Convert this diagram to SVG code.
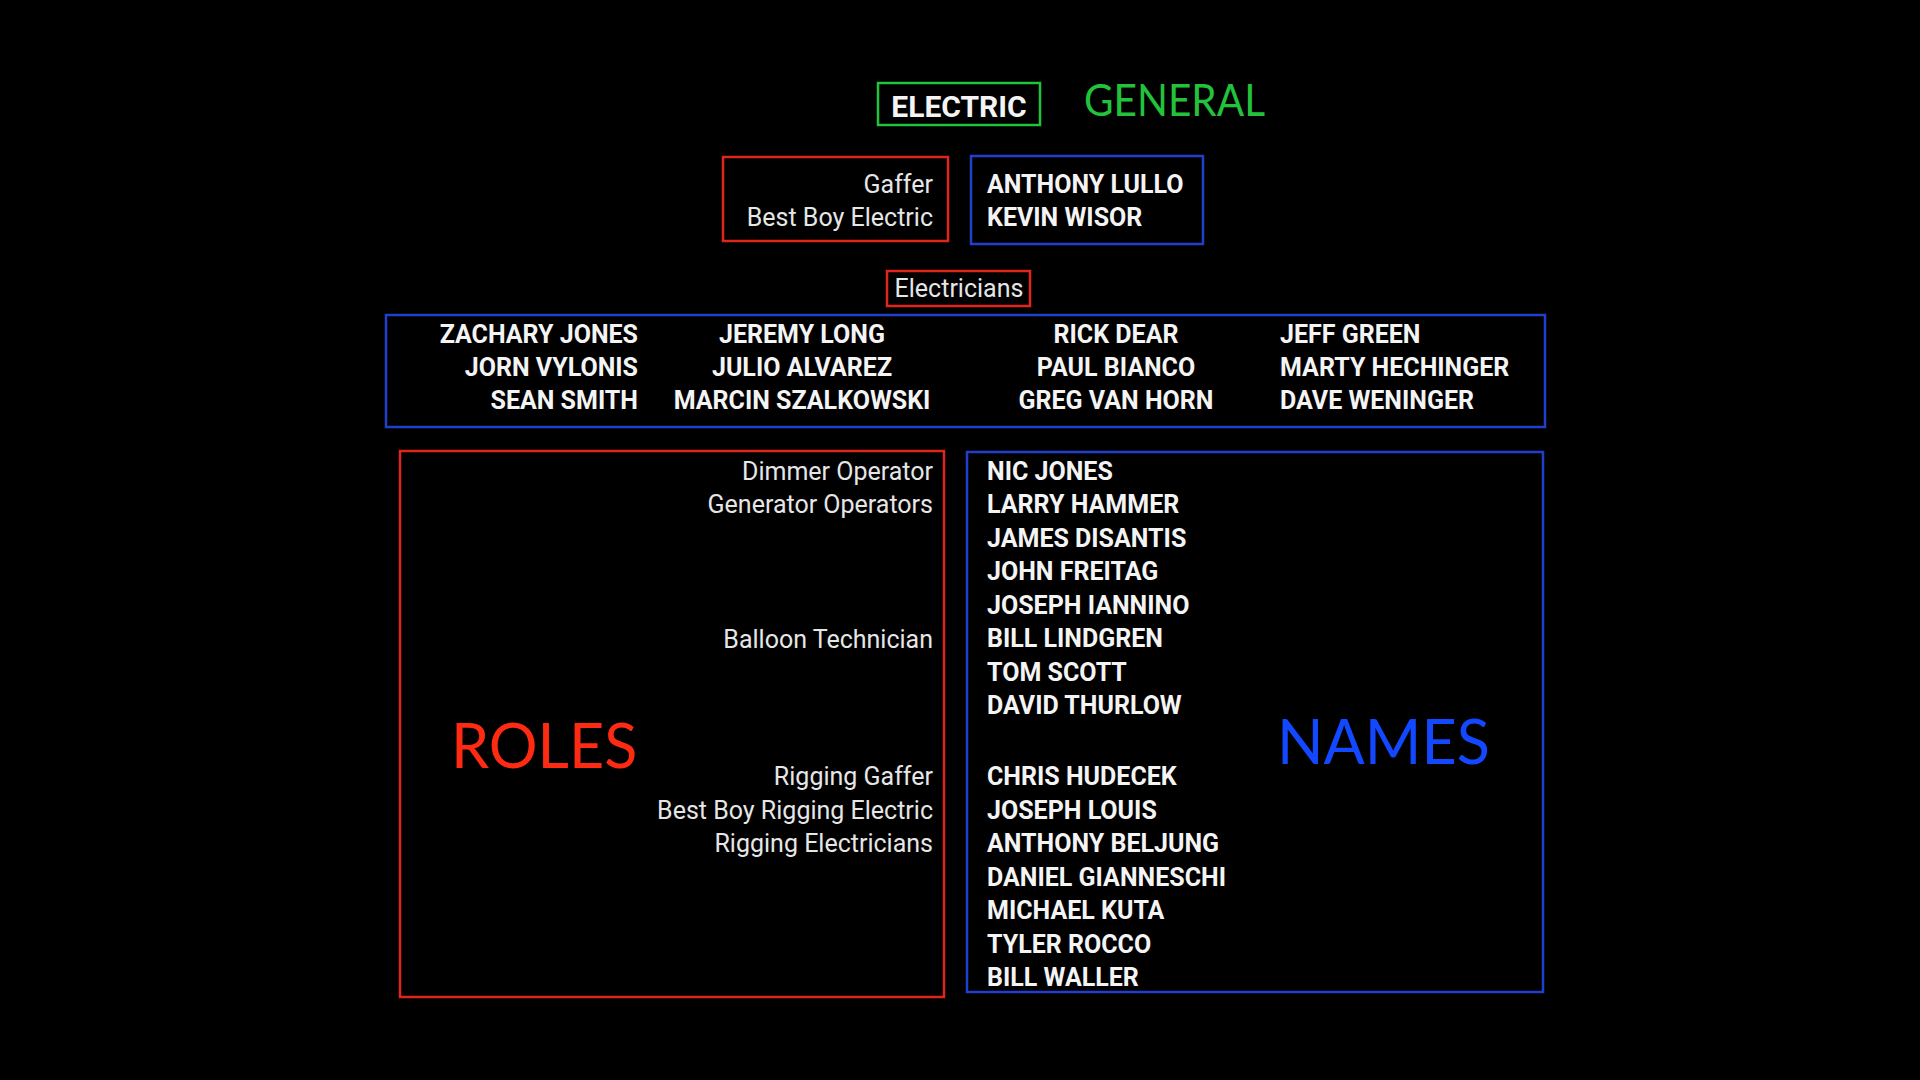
<svg xmlns="http://www.w3.org/2000/svg" width="1920" height="1080" viewBox="0 0 1920 1080">
<style>
.bg{fill:#000}
.rb{fill:none;stroke:#e0261c;stroke-width:2.5}
.bb{fill:none;stroke:#1f3fcc;stroke-width:2.5}
.gb{fill:none;stroke:#22c23c;stroke-width:2.5}
.role{font-family:Roboto,"Liberation Sans",sans-serif;font-size:25px;fill:#e6e6e6;text-anchor:end}
.name{font-family:Roboto,"Liberation Sans",sans-serif;font-size:25px;font-weight:bold;fill:#f4f4f4}
.big{font-family:Lato,"Open Sans",sans-serif}
</style>
<rect class="bg" x="0" y="0" width="1920" height="1080"/>

<g id="title">
  <rect class="gb" x="878" y="83" width="162" height="42"/>
  <text class="name" x="959" y="117" style="font-size:30px" text-anchor="middle">ELECTRIC</text>
  <text class="big" x="1084" y="116" font-size="45" fill="#22c23c" textLength="181" lengthAdjust="spacingAndGlyphs">GENERAL</text>
</g>

<g id="heads-roles">
  <rect class="rb" x="723" y="157" width="225" height="84"/>
  <text class="role" x="933" y="193">Gaffer</text>
  <text class="role" x="933" y="226">Best Boy Electric</text>
</g>

<g id="heads-names">
  <rect class="bb" x="971" y="156" width="232" height="88"/>
  <text class="name" x="987" y="193">ANTHONY LULLO</text>
  <text class="name" x="987" y="226">KEVIN WISOR</text>
</g>

<g id="electricians-label">
  <rect class="rb" x="887" y="271" width="143" height="35"/>
  <text class="role" x="959" y="297" style="text-anchor:middle">Electricians</text>
</g>

<g id="electricians-names">
  <rect class="bb" x="386" y="315" width="1159" height="112"/>
  <g text-anchor="end">
    <text class="name" x="638" y="343">ZACHARY JONES</text>
    <text class="name" x="638" y="376">JORN VYLONIS</text>
    <text class="name" x="638" y="409">SEAN SMITH</text>
  </g>
  <g text-anchor="middle">
    <text class="name" x="802" y="343">JEREMY LONG</text>
    <text class="name" x="802" y="376">JULIO ALVAREZ</text>
    <text class="name" x="802" y="409">MARCIN SZALKOWSKI</text>
    <text class="name" x="1116" y="343">RICK DEAR</text>
    <text class="name" x="1116" y="376">PAUL BIANCO</text>
    <text class="name" x="1116" y="409">GREG VAN HORN</text>
  </g>
  <text class="name" x="1280" y="343">JEFF GREEN</text>
  <text class="name" x="1280" y="376">MARTY HECHINGER</text>
  <text class="name" x="1280" y="409">DAVE WENINGER</text>
</g>

<g id="roles">
  <rect class="rb" x="400" y="451" width="544" height="546"/>
  <text class="big" x="451" y="768" font-size="61" fill="#ff2a12">ROLES</text>
  <text class="role" x="933" y="480">Dimmer Operator</text>
  <text class="role" x="933" y="513">Generator Operators</text>
  <text class="role" x="933" y="648">Balloon Technician</text>
  <text class="role" x="933" y="785">Rigging Gaffer</text>
  <text class="role" x="933" y="819">Best Boy Rigging Electric</text>
  <text class="role" x="933" y="852">Rigging Electricians</text>
</g>

<g id="names">
  <rect class="bb" x="967" y="452" width="576" height="540"/>
  <text class="big" x="1277" y="764" font-size="61" fill="#1248ff">NAMES</text>
  <text class="name" x="987" y="480">NIC JONES</text>
  <text class="name" x="987" y="513">LARRY HAMMER</text>
  <text class="name" x="987" y="547">JAMES DISANTIS</text>
  <text class="name" x="987" y="580">JOHN FREITAG</text>
  <text class="name" x="987" y="614">JOSEPH IANNINO</text>
  <text class="name" x="987" y="647">BILL LINDGREN</text>
  <text class="name" x="987" y="681">TOM SCOTT</text>
  <text class="name" x="987" y="714">DAVID THURLOW</text>
  <text class="name" x="987" y="785">CHRIS HUDECEK</text>
  <text class="name" x="987" y="819">JOSEPH LOUIS</text>
  <text class="name" x="987" y="852">ANTHONY BELJUNG</text>
  <text class="name" x="987" y="886">DANIEL GIANNESCHI</text>
  <text class="name" x="987" y="919">MICHAEL KUTA</text>
  <text class="name" x="987" y="953">TYLER ROCCO</text>
  <text class="name" x="987" y="986">BILL WALLER</text>
</g>

<g id="connectors"></g>
</svg>
